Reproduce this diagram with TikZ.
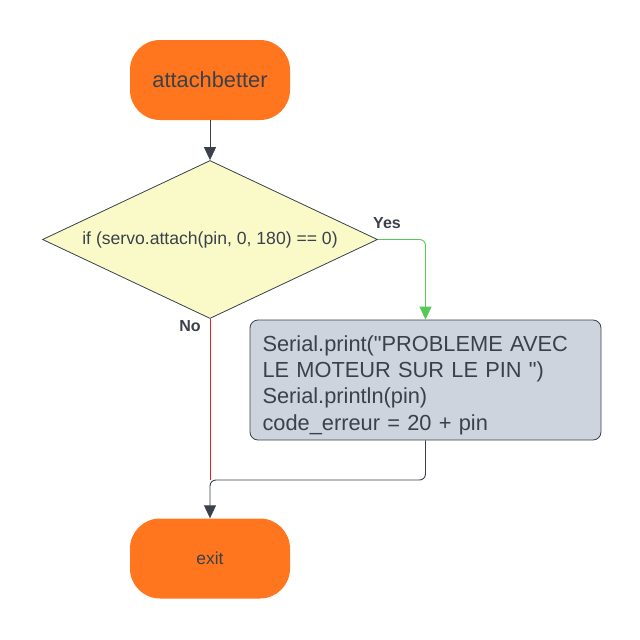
\documentclass[tikz,border=0pt]{standalone}
\usepackage{fontspec}
\setmainfont{Liberation Sans}[Ligatures=TeXOff]
\usetikzlibrary{shapes.geometric,arrows.meta}
\definecolor{orangeT}{RGB}{255,118,30}
\definecolor{ink}{RGB}{58,65,74}
\definecolor{yellowD}{RGB}{250,250,200}
\definecolor{grayB}{RGB}{206,212,221}
\definecolor{greenL}{RGB}{85,200,85}
\definecolor{redL}{RGB}{230,35,35}
\tikzset{
  x=1pt, y=-1pt,
  terminal/.style={rectangle, rounded corners=30pt, fill=orangeT, minimum width=160pt, minimum height=80pt, inner sep=0pt, text=ink},
  decision/.style={diamond, draw=ink, line width=0.8pt, fill=yellowD, shape aspect=2.12, minimum width=335pt, minimum height=158pt, inner sep=0pt, text=ink, font=\fontsize{17.6}{20}\selectfont},
  procbox/.style={rectangle, rounded corners=8pt, draw=ink, line width=0.8pt, fill=grayB, minimum width=351pt, minimum height=120pt, text width=326pt, align=left, inner sep=0pt, text=ink, font=\fontsize{21.8}{26.3}\selectfont},
  conn/.style={draw=ink, line width=0.9pt, rounded corners=6pt},
  tip/.style={-{Triangle[width=12pt,length=13pt]}},
  lbl/.style={text=ink, font=\bfseries\fontsize{16}{18}\selectfont, inner sep=0pt}
}
\begin{document}
\begin{tikzpicture}
\useasboundingbox (0,0) rectangle (640,640);
\node[terminal, font=\fontsize{21.8}{24}\selectfont] (t1) at (210,80) {attachbetter};
\node[decision] (d) at (210,239.5) {if (servo.attach(pin, 0, 180) == 0)};
\node[procbox] (b) at (425.5,380) {\rule{0pt}{26pt}Serial.print("PROBLEME AVEC\\LE MOTEUR SUR LE PIN ")\\Serial.println(pin)\\code\_erreur = 20 + pin};
\node[terminal, font=\fontsize{17.4}{20}\selectfont] (e) at (210,558.5) {exit};
\coordinate (j) at (210,480);
\node[lbl] (yes) at (387,223) {Yes};
\node[lbl] (no) at (190,326) {No};
\draw[conn, tip] (t1.south) -- (d.north);
\draw[conn, draw=greenL, tip] (d.east) -| (b.north);
\draw[conn, draw=redL] (d.south) -- (j);
\draw[conn, tip] (b.south) |- (j) -- (e.north);
\end{tikzpicture}
\end{document}
